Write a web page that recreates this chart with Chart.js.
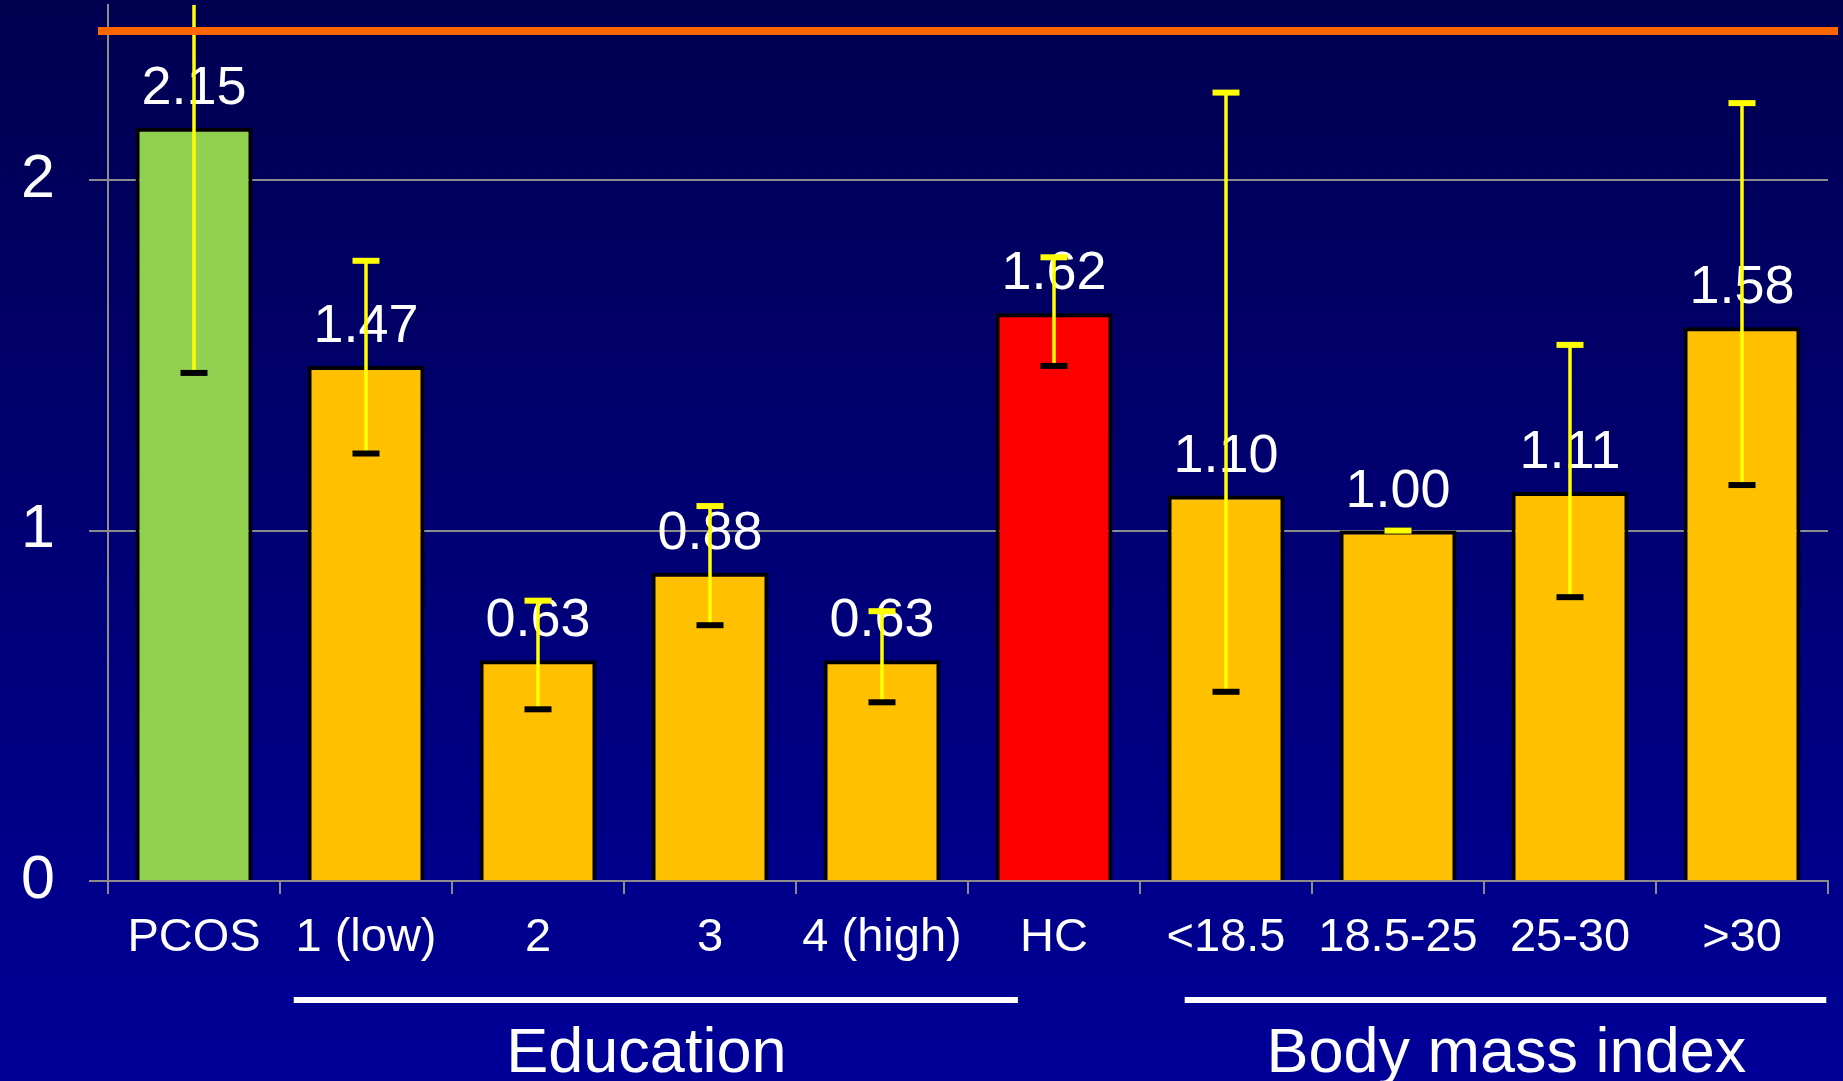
<!DOCTYPE html>
<html>
<head>
<meta charset="utf-8">
<script src="https://cdn.jsdelivr.net/npm/chart.js@4"></script>
<style>
  html, body { margin: 0; padding: 0; background: #000060; }
  #wrap { width: 1843px; height: 1081px; position: relative; }
</style>
</head>
<body>
<div id="wrap"><canvas id="chart"></canvas></div>
<script>
// Odds ratios with 95% confidence intervals per subgroup
const categories = ['PCOS', '1 (low)', '2', '3', '4 (high)', 'HC', '<18.5', '18.5-25', '25-30', '>30'];
const oddsRatios = [2.15, 1.47, 0.63, 0.88, 0.63, 1.62, 1.10, 1.00, 1.11, 1.58];
const ciLower    = [1.45, 1.22, 0.49, 0.73, 0.51, 1.47, 0.54, 1.00, 0.81, 1.13];
const ciUpper    = [3.18, 1.77, 0.80, 1.07, 0.77, 1.78, 2.25, 1.00, 1.53, 2.22];
const barColors  = ['#92D050', '#FFC000', '#FFC000', '#FFC000', '#FFC000',
                    '#FF0000', '#FFC000', '#FFC000', '#FFC000', '#FFC000'];
const yTickValues = [0, 1, 2];

// Grouping captions under the category axis (extents in category units)
const groupLabels = ['Education', 'Body mass index'];
const groupLineFrom = [1.08, 6.26];
const groupLineTo   = [5.29, 9.99];
const groupCenter   = [3.13, 8.13];

const FONT = "'Liberation Sans', Arial, Helvetica, sans-serif";
const GRID = '#8c8c8c';

const backgroundPlugin = {
  id: 'slideBackground',
  beforeDraw(chart) {
    const { ctx, width, height } = chart;
    const g = ctx.createLinearGradient(0, 0, 0, height);
    g.addColorStop(0, '#000050');
    g.addColorStop(1, '#000098');
    ctx.save();
    ctx.fillStyle = g;
    ctx.fillRect(0, 0, width, height);
    ctx.restore();
  }
};

const overlayPlugin = {
  id: 'valuesAndIntervals',
  afterDatasetsDraw(chart) {
    const { ctx, chartArea: area } = chart;
    const xs = chart.scales.x, ys = chart.scales.y;

    // value labels above bars
    ctx.save();
    ctx.fillStyle = '#ffffff';
    ctx.font = '54px ' + FONT;
    ctx.textAlign = 'center';
    ctx.textBaseline = 'alphabetic';
    oddsRatios.forEach((v, i) => {
      ctx.fillText(v.toFixed(2), xs.getPixelForValue(i), ys.getPixelForValue(v) - 24);
    });
    ctx.restore();

    // confidence intervals: yellow stem, black lower cap, yellow upper cap
    ctx.save();
    ctx.beginPath();
    ctx.rect(area.left, area.top, area.right - area.left, area.bottom - area.top);
    ctx.clip();
    const capW = 27, capH = 6;
    categories.forEach((c, i) => {
      const x = xs.getPixelForValue(i);
      const yLo = ys.getPixelForValue(ciLower[i]);
      const yHi = ys.getPixelForValue(ciUpper[i]);
      ctx.strokeStyle = '#FFFF00';
      ctx.lineWidth = 3.5;
      ctx.beginPath();
      ctx.moveTo(x, yLo);
      ctx.lineTo(x, yHi);
      ctx.stroke();
      ctx.fillStyle = '#000000';
      ctx.fillRect(x - capW / 2, yLo - capH / 2, capW, capH);
      ctx.fillStyle = '#FFFF00';
      ctx.fillRect(x - capW / 2, yHi - capH / 2, capW, capH);
    });
    ctx.restore();
  },
  afterDraw(chart) {
    const { ctx, chartArea: area } = chart;
    const catW = (area.right - area.left) / categories.length;

    // orange rule under the slide heading
    ctx.save();
    ctx.fillStyle = '#FF6600';
    ctx.fillRect(98, 27, 1740, 8);

    // group underlines and captions
    ctx.fillStyle = '#ffffff';
    ctx.font = '63px ' + FONT;
    ctx.textAlign = 'center';
    ctx.textBaseline = 'alphabetic';
    groupLabels.forEach((label, k) => {
      const x0 = area.left + groupLineFrom[k] * catW;
      const x1 = area.left + groupLineTo[k] * catW;
      ctx.fillRect(x0, 997, x1 - x0, 6);
      ctx.fillText(label, area.left + groupCenter[k] * catW, 1072);
    });
    ctx.restore();
  }
};

new Chart(document.getElementById('chart'), {
  type: 'bar',
  data: {
    labels: categories,
    datasets: [{
      data: oddsRatios,
      backgroundColor: barColors,
      borderColor: '#000000',
      borderWidth: 4,
      categoryPercentage: 1,
      barPercentage: 0.68
    }]
  },
  options: {
    responsive: true,
    maintainAspectRatio: false,
    animation: false,
    layout: { padding: { top: 5, right: 15, left: 0, bottom: 0 } },
    plugins: { legend: { display: false }, tooltip: { enabled: false } },
    scales: {
      x: {
        grid: { drawOnChartArea: false, color: GRID, lineWidth: 2, tickLength: 13, offset: true },
        border: { color: GRID, width: 2 },
        ticks: { color: '#ffffff', font: { family: FONT, size: 47 }, padding: 16, maxRotation: 0, autoSkip: false },
        afterFit(scale) { scale.height = 200; }
      },
      y: {
        min: 0,
        max: 2.5,
        afterBuildTicks(scale) { scale.ticks = yTickValues.map(v => ({ value: v })); },
        grid: { color: GRID, lineWidth: 2, tickLength: 19 },
        border: { color: GRID, width: 2 },
        ticks: { color: '#ffffff', font: { family: FONT, size: 61 }, padding: 34 },
        afterFit(scale) {
          scale.width = 108;
          scale.paddingTop = 0;
          scale.paddingBottom = 0;
        }
      }
    }
  },
  plugins: [backgroundPlugin, overlayPlugin]
});
</script>
</body>
</html>
